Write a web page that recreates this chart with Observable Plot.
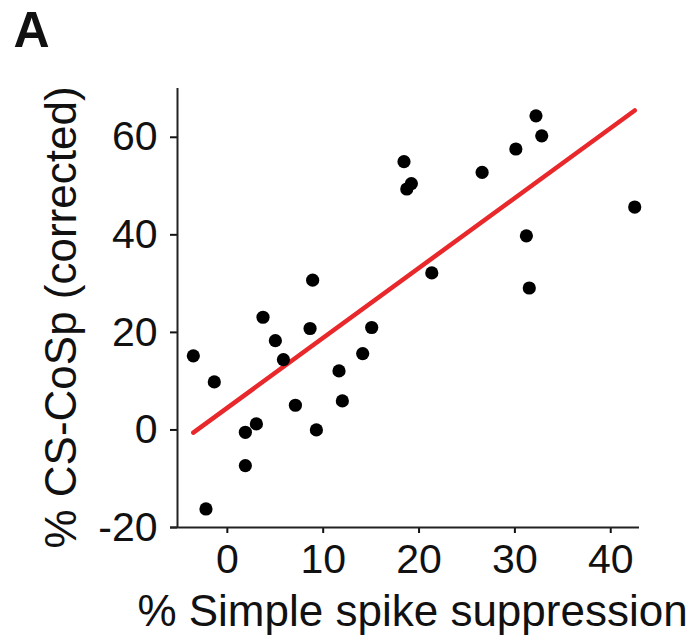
<!DOCTYPE html>
<html>
<head>
<meta charset="utf-8">
<script src="https://cdn.jsdelivr.net/npm/d3@7"></script>
<script src="https://cdn.jsdelivr.net/npm/@observablehq/plot@0.6"></script>
<style>
  html, body { margin: 0; padding: 0; background: #fff; }
  #chart svg g[aria-label*="axis"] path,
  #chart svg g[aria-label*="axis"] line { stroke-width: 2px; }
</style>
</head>
<body>
<div id="chart"></div>
<script>
// Data
const suppression = [-3.55, -1.36, -2.23, 1.88, 1.88, 3.03, 3.72, 5.01, 5.85, 8.63, 7.10, 9.29, 11.65, 12.0, 14.12, 15.06, 8.9, 18.43, 18.72, 19.2, 21.33, 26.58, 30.1, 31.2, 31.5, 32.2, 32.8, 42.5];
const cscosp = [15.2, 9.85, -16.2, -0.48, -7.3, 1.23, 23.1, 18.3, 14.4, 20.8, 5.06, 0, 12.1, 5.95, 15.65, 21.0, 30.7, 55.0, 49.4, 50.5, 32.2, 52.8, 57.6, 39.8, 29.1, 64.4, 60.3, 45.7];
const fitX = [-3.55, 42.5];
const fitY = [-0.55, 65.5];
const xTicks = [0, 10, 20, 30, 40];
const yTicks = [-20, 0, 20, 40, 60];
const xDomain = [-5.2, 43];
const yDomain = [-20, 70];
const xTitle = "% Simple spike suppression";
const yTitle = "% CS-CoSp (corrected)";
const panelLabel = "A";

const points = suppression.map((x, i) => ({x, y: cscosp[i]}));
const fit = fitX.map((x, i) => ({x, y: fitY[i]}));

const font = "'Liberation Sans', Arial, Helvetica, sans-serif";

const chart = Plot.plot({
  width: 693,
  height: 640,
  marginLeft: 177,
  marginRight: 54,
  marginTop: 88,
  marginBottom: 113,
  style: {fontFamily: font, fontSize: "41px", color: "#111", background: "#fff", overflow: "visible"},
  x: {domain: xDomain, ticks: xTicks, tickSize: 6, tickPadding: 10, tickFormat: d => String(d), label: null},
  y: {domain: yDomain, ticks: yTicks, tickSize: 7, tickPadding: 13, tickFormat: d => String(d), label: null},
  marks: [
    Plot.ruleY([yDomain[0]], {stroke: "#222", strokeWidth: 2, insetLeft: -7}),
    Plot.ruleX([xDomain[0]], {stroke: "#222", strokeWidth: 2}),
    Plot.line(fit, {x: "x", y: "y", stroke: "#e8282b", strokeWidth: 4.5}),
    Plot.dot(points, {x: "x", y: "y", r: 6.6, fill: "#000", stroke: "none"}),
    Plot.text([xTitle], {frameAnchor: "bottom", lineAnchor: "middle", textAnchor: "middle", dx: 4, dy: 84, fontSize: 44, fill: "#111"}),
    Plot.text([yTitle], {frameAnchor: "left", lineAnchor: "middle", textAnchor: "middle", rotate: -90, dx: -116, dy: 9.5, fontSize: 44, fill: "#111"}),
    Plot.text([panelLabel], {frameAnchor: "top-left", lineAnchor: "middle", textAnchor: "start", dx: -164, dy: -58, fontSize: 50, fontWeight: "bold", fill: "#111"})
  ]
});
document.getElementById("chart").appendChild(chart);
</script>
</body>
</html>
